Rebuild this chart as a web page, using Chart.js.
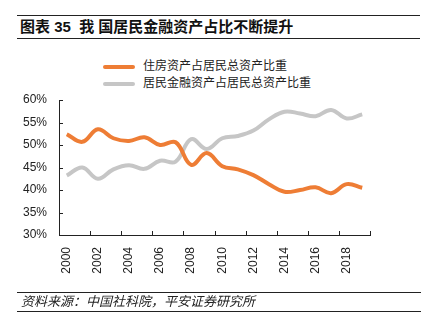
<!DOCTYPE html>
<html>
<head>
<meta charset="utf-8">
<script src="https://cdn.jsdelivr.net/npm/chart.js"></script>
<style>
  body { margin: 0; background: #fff; font-family: "Liberation Sans", Arial, "Noto Sans CJK SC", sans-serif; }
  #wrap { position: relative; width: 428px; height: 329px; overflow: hidden; }
  #title {
    position: absolute; left: 17px; top: 15px; width: 400px; height: 22px;
    border-top: 1px solid #222; border-bottom: 1px solid #222;
    font-size: 15px; font-weight: bold; line-height: 22px; color: #111;
    padding-left: 3px; box-sizing: content-box;
  }
  #source {
    position: absolute; left: 17px; top: 292px; width: 400px; height: 18px;
    border-top: 1px solid #222; border-bottom: 1px solid #222;
    font-size: 13px; font-style: italic; line-height: 18px; color: #222;
    padding-left: 4px;
  }
  #legend { position: absolute; left: 103px; top: 58px; font-size: 12px; color: #222; }
  #legend div { height: 17px; line-height: 17px; }
  #legend span.sw { display: inline-block; width: 32px; height: 4px; vertical-align: middle; margin-right: 8px; border-radius: 2px; }
  canvas { position: absolute; left: 0; top: 0; }
</style>
</head>
<body>
<div id="wrap">
  <div id="title">图表 35&nbsp; 我 国居民金融资产占比不断提升</div>
  <div id="legend"></div>
  <canvas id="chart" width="428" height="329"></canvas>
  <div id="source">资料来源：中国社科院，平安证券研究所</div>
</div>
<script>
const years = ["2000", "2001", "2002", "2003", "2004", "2005", "2006", "2007", "2008", "2009",
  "2010", "2011", "2012", "2013", "2014", "2015", "2016", "2017", "2018", "2019"];

// 住房资产占居民总资产比重 (%)
const housingShare = [52.4, 50.7, 53.5, 51.5, 50.9, 51.7, 50.0, 50.6, 45.6, 48.2,
  45.3, 44.6, 43.3, 41.3, 39.6, 40.0, 40.6, 39.3, 41.3, 40.5];

// 居民金融资产占居民总资产比重 (%)
const financialShare = [43.2, 45.0, 42.5, 44.6, 45.5, 44.7, 46.5, 46.3, 51.3, 49.1,
  51.5, 52.0, 53.2, 55.7, 57.4, 57.0, 56.4, 57.8, 55.9, 56.8];

const seriesNames = ["住房资产占居民总资产比重", "居民金融资产占居民总资产比重"];
const seriesColors = ["#ee7d35", "#c6c6c6"];

const yTicks = [30, 35, 40, 45, 50, 55, 60];

// small tick marks pointing into the plot, like the axis style of the report
const innerTicks = {
  id: "innerTicks",
  afterDraw(chart) {
    const ctx = chart.ctx;
    const x = chart.scales.x;
    const y = chart.scales.y;
    ctx.save();
    ctx.strokeStyle = "#222";
    ctx.lineWidth = 1;
    ctx.beginPath();
    for (let i = 0; i <= years.length; i += 2) {
      const px = Math.round(x.getPixelForValue(i - 0.5)) + 0.5;
      ctx.moveTo(px, y.bottom);
      ctx.lineTo(px, y.bottom - 4);
    }
    yTicks.forEach((v) => {
      const py = Math.round(y.getPixelForValue(v)) + 0.5;
      ctx.moveTo(x.left, py);
      ctx.lineTo(x.left + 4, py);
    });
    ctx.stroke();
    ctx.restore();
  },
};

const chart = new Chart(document.getElementById("chart"), {
  type: "line",
  data: {
    labels: years,
    datasets: [
      {
        label: seriesNames[0],
        data: housingShare,
        borderColor: seriesColors[0],
        backgroundColor: seriesColors[0],
        borderWidth: 4,
        pointRadius: 0,
        tension: 0.4,
      },
      {
        label: seriesNames[1],
        data: financialShare,
        borderColor: seriesColors[1],
        backgroundColor: seriesColors[1],
        borderWidth: 4,
        pointRadius: 0,
        tension: 0.4,
      },
    ],
  },
  options: {
    responsive: false,
    animation: false,
    layout: { padding: { left: 0, top: 100, right: 58, bottom: 54 } },
    plugins: { legend: { display: false }, tooltip: { enabled: false } },
    scales: {
      x: {
        offset: true,
        grid: { display: false, offset: true },
        border: { display: true, color: "#222", width: 1 },
        ticks: {
          autoSkip: false,
          maxRotation: 90,
          minRotation: 90,
          padding: 4,
          color: "#222",
          font: { family: "Liberation Sans", size: 12 },
          callback: function (v, i) {
            return i % 2 === 0 ? years[i] : null;
          },
        },
        afterFit: (s) => { s.height = 40; },
      },
      y: {
        min: 30,
        max: 60,
        grid: { display: false },
        border: { display: true, color: "#222", width: 1 },
        ticks: {
          stepSize: 5,
          padding: 4,
          color: "#222",
          font: { family: "Liberation Sans", size: 12 },
          callback: (v) => v + "%",
        },
        afterFit: (s) => { s.width = 59; },
      },
    },
  },
  plugins: [innerTicks],
});

// legend stacked in two rows above the plot
const legend = document.getElementById("legend");
chart.data.datasets.forEach((ds) => {
  const row = document.createElement("div");
  const sw = document.createElement("span");
  sw.className = "sw";
  sw.style.backgroundColor = ds.borderColor;
  row.appendChild(sw);
  row.appendChild(document.createTextNode(ds.label));
  legend.appendChild(row);
});
</script>
</body>
</html>
